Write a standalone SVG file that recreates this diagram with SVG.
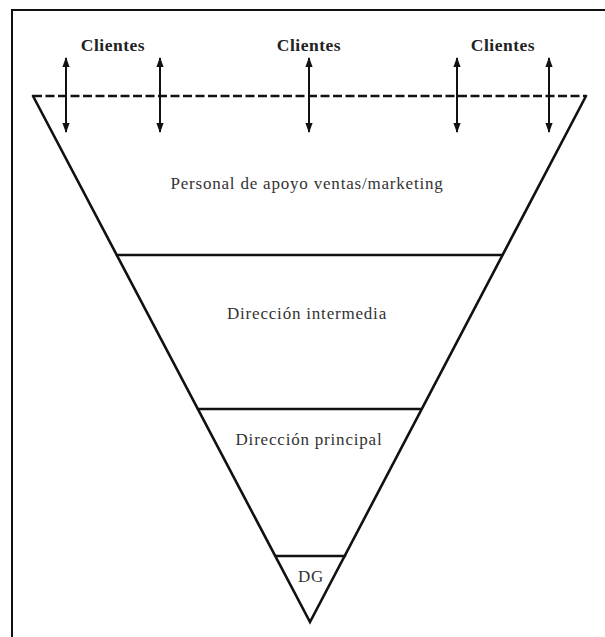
<svg xmlns="http://www.w3.org/2000/svg" width="605" height="637" viewBox="0 0 605 637">
  <style>
    .frame { fill: none; stroke: #111; stroke-width: 2; }
    .edge { fill: none; stroke: #111; stroke-width: 2.6; stroke-linecap: round; }
    .dash { fill: none; stroke: #111; stroke-width: 2.6; stroke-dasharray: 9 3.5; }
    .arrow { stroke: #111; stroke-width: 2; marker-start: url(#head); marker-end: url(#head); }
    .lbl { font-family: "Liberation Serif", "DejaVu Serif", serif; font-size: 17px; letter-spacing: 0.8px; fill: #333; text-anchor: middle; }
    .client { font-family: "Liberation Serif", "DejaVu Serif", serif; font-size: 17.5px; letter-spacing: 0.5px; font-weight: bold; fill: #222; text-anchor: middle; }
  </style>
  <defs>
    <marker id="head" viewBox="0 0 10 10" refX="9" refY="5" markerWidth="5" markerHeight="3.6" orient="auto-start-reverse" markerUnits="strokeWidth" preserveAspectRatio="none">
      <path d="M0,0 L10,5 L0,10 z" fill="#111"/>
    </marker>
  </defs>
  <rect width="605" height="637" fill="#fff"/>
  <!-- page frame, open at right and bottom -->
  <path class="frame" d="M12,640 V10 H610"/>

  <g id="connectors">
    <line class="arrow" x1="66" y1="58" x2="66" y2="132"/>
    <line class="arrow" x1="160" y1="58" x2="160" y2="132"/>
    <line class="arrow" x1="309" y1="58" x2="309" y2="132"/>
    <line class="arrow" x1="457" y1="58" x2="457" y2="132"/>
    <line class="arrow" x1="549" y1="58" x2="549" y2="132"/>
  </g>

  <g id="clientes-1"><text class="client" x="113" y="51">Clientes</text></g>
  <g id="clientes-2"><text class="client" x="309" y="51">Clientes</text></g>
  <g id="clientes-3"><text class="client" x="503" y="51">Clientes</text></g>

  <g id="piramide">
    <line class="dash" x1="33" y1="96" x2="586" y2="96"/>
    <path class="edge" d="M33,96 L310,622 L586,96"/>
  </g>

  <g id="personal-apoyo">
    <text class="lbl" x="307" y="189">Personal de apoyo ventas/marketing</text>
  </g>
  <g id="direccion-intermedia">
    <line class="edge" x1="117" y1="255" x2="502" y2="255"/>
    <text class="lbl" x="307" y="319">Dirección intermedia</text>
  </g>
  <g id="direccion-principal">
    <line class="edge" x1="198" y1="409" x2="421" y2="409"/>
    <text class="lbl" x="309" y="445">Dirección principal</text>
  </g>
  <g id="dg">
    <line class="edge" x1="276" y1="556" x2="345" y2="556"/>
    <text class="lbl" x="311" y="582">DG</text>
  </g>
</svg>
